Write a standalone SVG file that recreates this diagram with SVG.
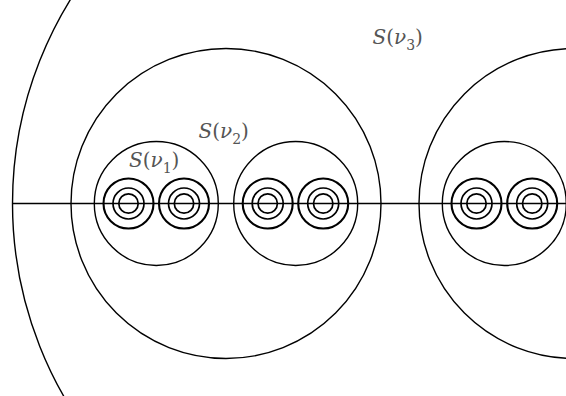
<svg xmlns="http://www.w3.org/2000/svg" width="566" height="396" viewBox="0 0 566 396">
<style>
.c{fill:none;stroke:#000;stroke-width:1.4}
.r0{fill:none;stroke:#000;stroke-width:2.1}
.r1{fill:none;stroke:#000;stroke-width:1.7}
.it{font-style:italic}
</style>
<defs>
<g id="tiny">
<circle class="r0" r="25"/>
<circle class="r1" r="15.5"/>
<circle class="r1" r="9.7"/>
</g>
</defs>
<rect width="566" height="396" fill="#fff"/>
<g id="S3">
<circle class="c" cx="400" cy="203.5" r="387.5"/>
</g>
<g id="S2a">
<circle class="c" cx="226" cy="203.5" r="155"/>
</g>
<g id="S2b">
<circle class="c" cx="574" cy="203.5" r="155"/>
</g>
<g id="S1a"><circle class="c" cx="156.3" cy="203.5" r="62"/></g>
<g id="S1b"><circle class="c" cx="295.7" cy="203.5" r="62"/></g>
<g id="S1c"><circle class="c" cx="504.3" cy="203.5" r="62"/></g>
<g id="connectors">
<line x1="12.5" y1="203.5" x2="566" y2="203.5" stroke="#000" stroke-width="1.5"/>
</g>
<g id="T1"><use href="#tiny" x="128.5" y="203.5"/></g>
<g id="T2"><use href="#tiny" x="184" y="203.5"/></g>
<g id="T3"><use href="#tiny" x="267.7" y="203.5"/></g>
<g id="T4"><use href="#tiny" x="323.2" y="203.5"/></g>
<g id="T5"><use href="#tiny" x="476.5" y="203.5"/></g>
<g id="T6"><use href="#tiny" x="532.2" y="203.5"/></g>
<g id="labels" font-family="DejaVu Serif, Liberation Serif, serif" font-size="20" fill="#555">
<text x="129" y="167"><tspan class="it">S</tspan>(<tspan class="it">ν</tspan><tspan font-size="14" dy="6">1</tspan><tspan dy="-6">)</tspan></text>
<text x="198.5" y="137.5"><tspan class="it">S</tspan>(<tspan class="it">ν</tspan><tspan font-size="14" dy="6">2</tspan><tspan dy="-6">)</tspan></text>
<text x="372.5" y="43.5"><tspan class="it">S</tspan>(<tspan class="it">ν</tspan><tspan font-size="14" dy="6">3</tspan><tspan dy="-6">)</tspan></text>
</g>
</svg>
